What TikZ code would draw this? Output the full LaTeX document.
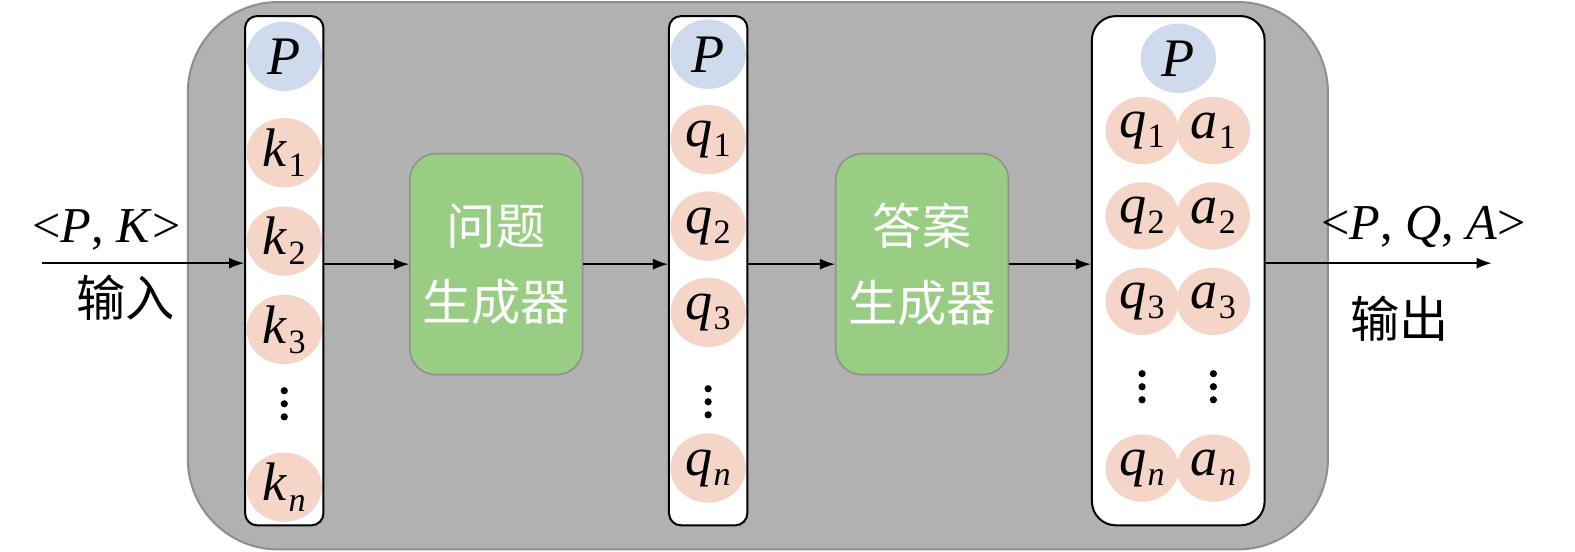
\documentclass[tikz,border=0pt]{standalone}
\usepackage{fontspec}
\setmainfont{Liberation Serif}
\newfontfamily\cjk{Noto Sans CJK SC}
\usetikzlibrary{arrows.meta,shapes.geometric}
\definecolor{bgray}{HTML}{B1B1B1}
\definecolor{bgrayline}{HTML}{8E8E8E}
\definecolor{pblue}{HTML}{CFDBEC}
\definecolor{ppink}{HTML}{F5D5C7}
\definecolor{pgreen}{HTML}{98CD83}
\newcommand\sbs[2]{\textit{#1}\hspace{1pt}\raisebox{-10pt}{\fontsize{34}{34}\selectfont #2}}
\newcommand\bigf{\fontsize{54}{56}\selectfont}
\tikzset{
  x=1pt, y=-1pt,
  blob/.style={ellipse, minimum width=75pt, minimum height=69pt, inner sep=0pt, fill=#1, font=\bigf},
  colbox/.style={draw=black, line width=2pt, fill=white, rounded corners=#1, inner sep=0pt},
  genbox/.style={draw=bgrayline, line width=1.5pt, fill=pgreen, rounded corners=26pt, minimum width=172pt, minimum height=220pt, inner sep=0pt, align=center, text=white, font=\cjk\fontsize{49}{76}\selectfont},
  arr/.style={line width=1.5pt, -{Latex[length=15pt,width=11pt]}},
  lbl/.style={inner sep=0pt, font=\fontsize{50}{52}\selectfont},
  cjklbl/.style={inner sep=0pt, font=\cjk\fontsize{49}{50}\selectfont},
}
\newcommand\dotcol[3]{%
  \fill (#2,#3-13) circle (3.6pt);
  \fill (#2,#3) circle (3.6pt);
  \fill (#2,#3+13) circle (3.6pt);
  \coordinate (#1) at (#2,#3);}
\begin{document}
\begin{tikzpicture}
\useasboundingbox (0,0) rectangle (1568,549);
% background panel
\node[draw=bgrayline, line width=2pt, fill=bgray, rounded corners=90pt, minimum width=1135pt, minimum height=545pt, inner sep=0pt] (panel) at (754.5,274.5) {};
% column 1
\node[colbox=12pt, minimum width=78pt, minimum height=507pt] (col1) at (283,269.5) {};
\node[blob=pblue] (c1p) at (283,56) {\textit{P}};
\node[blob=ppink] (k1) at (283,152) {\sbs{k}{1}};
\node[blob=ppink] (k2) at (283,240) {\sbs{k}{2}};
\node[blob=ppink] (k3) at (283,328) {\sbs{k}{3}};
\dotcol{kd}{283}{402}
\node[blob=ppink] (kn) at (283,485) {\sbs{k}{\textit{n}}};
% column 2
\node[colbox=12pt, minimum width=78pt, minimum height=507pt] (col2) at (705,269.5) {};
\node[blob=pblue] (c2p) at (705,54) {\textit{P}};
\node[blob=ppink] (q1) at (705,139) {\sbs{q}{1}};
\node[blob=ppink] (q2) at (705,225) {\sbs{q}{2}};
\node[blob=ppink] (q3) at (705,311) {\sbs{q}{3}};
\dotcol{qd}{705}{400}
\node[blob=ppink] (qn) at (705,466) {\sbs{q}{\textit{n}}};
% column 3
\node[colbox=24pt, minimum width=172pt, minimum height=507pt] (col3) at (1173,269.5) {};
\node[blob=pblue] (c3p) at (1173,58) {\textit{P}};
\foreach \i/\yy in {1/130,2/215,3/300}{
  \node[blob=ppink, minimum width=73pt, minimum height=67pt] (q\i c) at (1137,\yy) {\sbs{q}{\i}};
  \node[blob=ppink, minimum width=73pt, minimum height=67pt] (a\i c) at (1208,\yy) {\sbs{a}{\i}};
}
\dotcol{qcd}{1137}{385}
\dotcol{acd}{1208}{385}
\node[blob=ppink, minimum width=73pt, minimum height=67pt] (qnc) at (1137,466) {\sbs{q}{\textit{n}}};
\node[blob=ppink, minimum width=73pt, minimum height=67pt] (anc) at (1208,466) {\sbs{a}{\textit{n}}};
% generators
\node[genbox] (gen1) at (494,263) {问题\\生成器};
\node[genbox] (gen2) at (918,263) {答案\\生成器};
% arrows
\coordinate (in) at (42,262);
\coordinate (out) at (1485,262);
\draw[arr] (in) -- (in -| col1.west);
\draw[arr] (col1.east |- gen1) -- (gen1.west);
\draw[arr] (gen1.east) -- (gen1.east -| col2.west);
\draw[arr] (col2.east |- gen2) -- (gen2.west);
\draw[arr] (gen2.east) -- (gen2.east -| col3.west);
\draw[arr] (col3.east |- out) -- (out);
% labels
\node[lbl] (inlbl) at (106,229) {<\textit{P}, \textit{K}>};
\node[cjklbl] (incn) at (125,296) {输入};
\node[lbl] (outlbl) at (1417,226) {<\textit{P}, \textit{Q}, \textit{A}>};
\node[cjklbl] (outcn) at (1393,317) {输出};
\end{tikzpicture}
\end{document}
